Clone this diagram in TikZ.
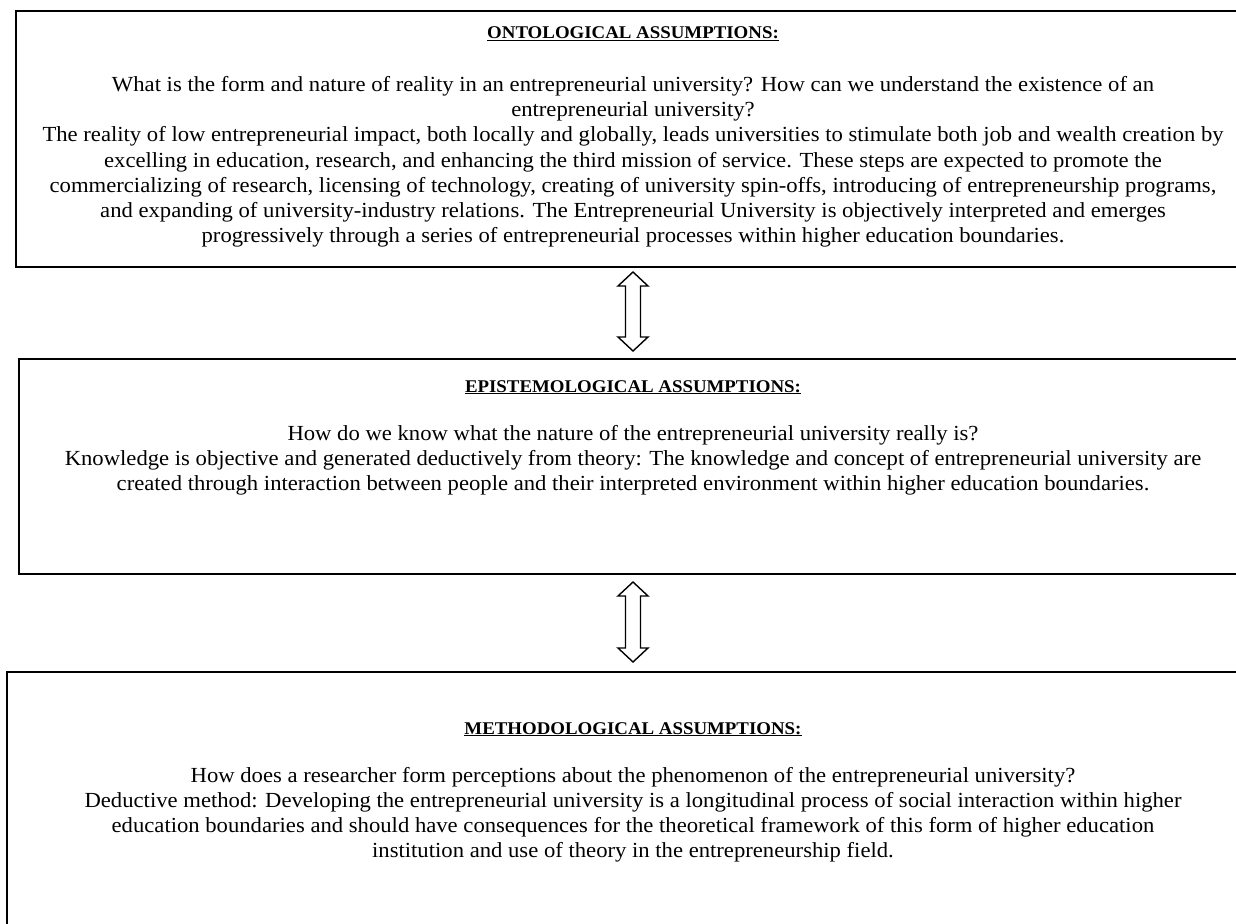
\documentclass[tikz,border=0pt]{standalone}
\usepackage{fontspec}
\setmainfont[FakeStretch=1.054]{Liberation Serif}
\begin{document}
\begin{tikzpicture}[x=1pt,y=-1pt,
  frame/.style={draw=black,line width=1.8pt},
  txt/.style={anchor=base,inner sep=0pt,font=\fontsize{21.5}{25}\selectfont},
  head/.style={anchor=base,inner sep=0pt,font=\fontsize{17.9}{21}\selectfont\bfseries},
  blockarrow/.style={draw=black,line width=1.4pt,fill=white,line join=miter}]
\useasboundingbox (0,0) rectangle (1236,923);
\clip (0,0) rectangle (1236,923);
% boxes
\draw[frame] (16,11) rectangle (1260,267);
\draw[frame] (19,359) rectangle (1260,574);
\draw[frame] (7,672) rectangle (1260,950);
% top box text
\node[head] (h1) at (633,39) {\underline{ONTOLOGICAL ASSUMPTIONS:}};
\node[txt] (a1) at (633,92) {What is the form and nature of reality in an entrepreneurial university? How can we understand the existence of an};
\node[txt] (a2) at (633,117) {entrepreneurial university?};
\node[txt] (a3) at (633,142) {The reality of low entrepreneurial impact, both locally and globally, leads universities to stimulate both job and wealth creation by};
\node[txt] (a4) at (633,167) {excelling in education, research, and enhancing the third mission of service. These steps are expected to promote the};
\node[txt] (a5) at (633,192) {commercializing of research, licensing of technology, creating of university spin-offs, introducing of entrepreneurship programs,};
\node[txt] (a6) at (633,217) {and expanding of university-industry relations. The Entrepreneurial University is objectively interpreted and emerges};
\node[txt] (a7) at (633,242) {progressively through a series of entrepreneurial processes within higher education boundaries.};
% middle box text
\node[head] (h2) at (633,392) {\underline{EPISTEMOLOGICAL ASSUMPTIONS:}};
\node[txt] (b1) at (633,440) {How do we know what the nature of the entrepreneurial university really is?};
\node[txt] (b2) at (633,465) {Knowledge is objective and generated deductively from theory: The knowledge and concept of entrepreneurial university are};
\node[txt] (b3) at (633,490) {created through interaction between people and their interpreted environment within higher education boundaries.};
% bottom box text
\node[head] (h3) at (633,734) {\underline{METHODOLOGICAL ASSUMPTIONS:}};
\node[txt] (c1) at (633,782) {How does a researcher form perceptions about the phenomenon of the entrepreneurial university?};
\node[txt] (c2) at (633,807) {Deductive method: Developing the entrepreneurial university is a longitudinal process of social interaction within higher};
\node[txt] (c3) at (633,832) {education boundaries and should have consequences for the theoretical framework of this form of higher education};
\node[txt] (c4) at (633,857) {institution and use of theory in the entrepreneurship field.};
% double block arrows
\coordinate (u1) at (633,272);
\coordinate (d1) at (633,351);
\coordinate (u2) at (633,582);
\coordinate (d2) at (633,662);
\foreach \t/\b in {u1/d1,u2/d2}{
  \draw[blockarrow] (\t) -- ++(15,14) -- ++(-7.5,0) |- ([shift={(7.5,-14)}]\b) -- ++(7.5,0) -- (\b)
    -- ++(-15,-14) -- ++(7.5,0) |- ([shift={(-7.5,14)}]\t) -- ++(-7.5,0) -- cycle;
}
\end{tikzpicture}
\end{document}
